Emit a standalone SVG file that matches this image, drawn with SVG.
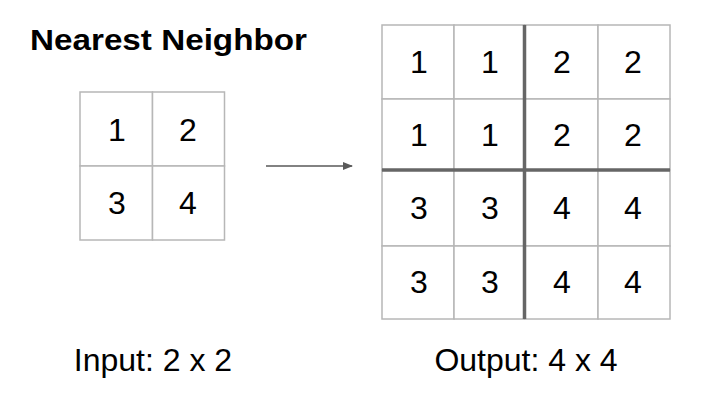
<svg xmlns="http://www.w3.org/2000/svg" width="718" height="400" viewBox="0 0 718 400">
<defs>
<style>
.cell{fill:#fff;stroke:#b7b7b7;stroke-width:1.5}
.thick{stroke:#666;stroke-width:3.5;fill:none}
.d{font-family:"Liberation Sans",Arial,sans-serif;font-size:32px;fill:#000;text-anchor:middle}
.lbl{font-family:"Liberation Sans",Arial,sans-serif;font-size:32px;fill:#000;text-anchor:middle}
.title{font-family:"Liberation Sans",Arial,sans-serif;font-size:29px;font-weight:bold;fill:#000}
</style>
<marker id="ah" markerWidth="10" markerHeight="8" refX="9" refY="4" orient="auto" markerUnits="userSpaceOnUse">
<path d="M0,0 L10,4 L0,8 Z" fill="#595959"/>
</marker>
</defs>
<rect width="718" height="400" fill="#fff"/>
<text class="title" x="30" y="50" textLength="277" lengthAdjust="spacingAndGlyphs">Nearest Neighbor</text>

<g id="input">
<rect class="cell" x="80" y="92" width="72.5" height="74"/>
<rect class="cell" x="152.5" y="92" width="72" height="74"/>
<rect class="cell" x="80" y="166" width="72.5" height="74"/>
<rect class="cell" x="152.5" y="166" width="72" height="74"/>
<text class="d" x="117" y="141">1</text>
<text class="d" x="188" y="141">2</text>
<text class="d" x="117" y="214">3</text>
<text class="d" x="188" y="214">4</text>
</g>

<g id="connectors">
<line x1="266" y1="166" x2="352" y2="166" stroke="#595959" stroke-width="1.5" marker-end="url(#ah)"/>
</g>

<g id="output">
<rect class="cell" x="382" y="25" width="72" height="74"/>
<rect class="cell" x="454" y="25" width="70.5" height="74"/>
<rect class="cell" x="524.5" y="25" width="73.5" height="74"/>
<rect class="cell" x="598" y="25" width="72" height="74"/>
<rect class="cell" x="382" y="99" width="72" height="71"/>
<rect class="cell" x="454" y="99" width="70.5" height="71"/>
<rect class="cell" x="524.5" y="99" width="73.5" height="71"/>
<rect class="cell" x="598" y="99" width="72" height="71"/>
<rect class="cell" x="382" y="170" width="72" height="76"/>
<rect class="cell" x="454" y="170" width="70.5" height="76"/>
<rect class="cell" x="524.5" y="170" width="73.5" height="76"/>
<rect class="cell" x="598" y="170" width="72" height="76"/>
<rect class="cell" x="382" y="246" width="72" height="73"/>
<rect class="cell" x="454" y="246" width="70.5" height="73"/>
<rect class="cell" x="524.5" y="246" width="73.5" height="73"/>
<rect class="cell" x="598" y="246" width="72" height="73"/>
<line class="thick" x1="524.5" y1="25" x2="524.5" y2="319"/>
<line class="thick" x1="382" y1="170" x2="670" y2="170"/>
<text class="d" x="419" y="73">1</text>
<text class="d" x="490" y="73">1</text>
<text class="d" x="562" y="73">2</text>
<text class="d" x="633" y="73">2</text>
<text class="d" x="419" y="146">1</text>
<text class="d" x="490" y="146">1</text>
<text class="d" x="562" y="146">2</text>
<text class="d" x="633" y="146">2</text>
<text class="d" x="419" y="219">3</text>
<text class="d" x="490" y="219">3</text>
<text class="d" x="562" y="219">4</text>
<text class="d" x="633" y="219">4</text>
<text class="d" x="419" y="293">3</text>
<text class="d" x="490" y="293">3</text>
<text class="d" x="562" y="293">4</text>
<text class="d" x="633" y="293">4</text>
</g>

<text class="lbl" x="153" y="371">Input: 2 x 2</text>
<text class="lbl" x="526" y="371">Output: 4 x 4</text>
</svg>
